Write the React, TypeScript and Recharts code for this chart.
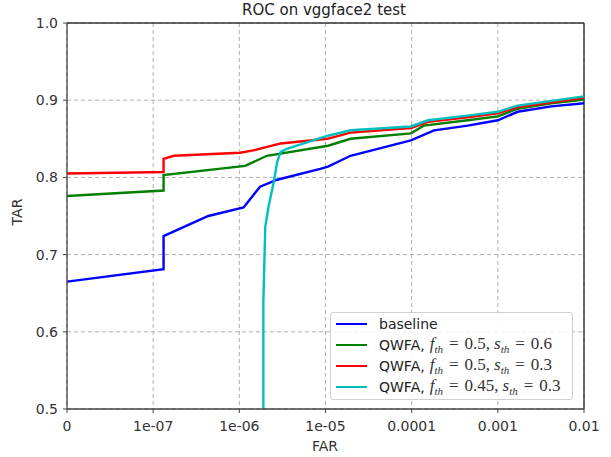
import { LineChart, Line, XAxis, YAxis, CartesianGrid, ReferenceLine } from 'recharts'

// x tick labels sit one decade apart, with 0 at the left edge
const xTickLabels = ['0', '1e-07', '1e-06', '1e-05', '0.0001', '0.001', '0.01']
const yTicks = [0.5, 0.6, 0.7, 0.8, 0.9, 1.0]

const baselineFar = [0, 1.32e-7, 1.32e-7, 4.37e-7, 1.12e-6, 1.45e-6, 1.74e-6, 2.75e-6, 8.7e-6, 1.07e-5, 1.95e-5, 9.8e-5, 1.82e-4, 4.47e-4, 1e-3, 1.7e-3, 4.17e-3, 1e-2]
const baselineTar = [0.665, 0.681, 0.724, 0.750, 0.761, 0.777, 0.788, 0.797, 0.811, 0.814, 0.828, 0.848, 0.861, 0.867, 0.874, 0.885, 0.892, 0.896]

const greenFar = [0, 1.32e-7, 1.32e-7, 1.17e-6, 2.09e-6, 1.07e-5, 1.95e-5, 9.8e-5, 1.38e-4, 4.47e-4, 1e-3, 1.7e-3, 4.17e-3, 1e-2]
const greenTar = [0.776, 0.783, 0.803, 0.815, 0.828, 0.841, 0.850, 0.857, 0.867, 0.874, 0.879, 0.889, 0.896, 0.901]

const redFar = [0, 1.32e-7, 1.32e-7, 1.74e-7, 1.02e-6, 1.45e-6, 3.02e-6, 1.05e-5, 1.95e-5, 9.8e-5, 1.55e-4, 4.47e-4, 1e-3, 1.7e-3, 1e-2]
const redTar = [0.805, 0.807, 0.824, 0.828, 0.832, 0.835, 0.844, 0.850, 0.858, 0.864, 0.872, 0.878, 0.883, 0.891, 0.903]

const cyanFar = [1.9e-6, 1.9e-6, 2.0e-6, 2.19e-6, 2.51e-6, 2.75e-6, 3.02e-6, 3.55e-6, 1.07e-5, 1.95e-5, 9.8e-5, 1.55e-4, 4.47e-4, 1e-3, 1.7e-3, 1e-2]
const cyanTar = [0.5, 0.638, 0.736, 0.763, 0.794, 0.820, 0.833, 0.837, 0.854, 0.861, 0.866, 0.874, 0.880, 0.885, 0.893, 0.905]

// symlog-ish position: linear below 1e-7, one unit per decade above
const toPos = (far: number) => (far <= 0 ? 0 : far < 1e-7 ? far / 1e-7 : Math.log10(far) + 8)
const build = (far: number[], tar: number[]) => far.map((f, i) => ({ x: toPos(f), y: tar[i] }))

const series = [
  { name: 'baseline', color: '#0000ff', data: build(baselineFar, baselineTar), f: '', s: '' },
  { name: 'QWFA', color: '#008000', data: build(greenFar, greenTar), f: '0.5', s: '0.6' },
  { name: 'QWFA', color: '#ff0000', data: build(redFar, redTar), f: '0.5', s: '0.3' },
  { name: 'QWFA', color: '#00bfbf', data: build(cyanFar, cyanTar), f: '0.45', s: '0.3' },
]

const font = '"DejaVu Sans", sans-serif'
const math = '"Liberation Serif", "DejaVu Serif", serif'

function MathLabel({ f, s }: { f: string; s: string }) {
  const sub = { fontSize: 11, fontStyle: 'italic' as const }
  const eq = { margin: '0 6px' }
  return (
    <span style={{ fontFamily: math, fontSize: 17, color: '#333' }}>
      <i>f</i><sub style={sub}>th</sub><span style={eq}>=</span>{f},<span style={{ marginLeft: 4 }} />
      <i>s</i><sub style={sub}>th</sub><span style={eq}>=</span>{s}
    </span>
  )
}

export default function App() {
  return (
    <div style={{ position: 'absolute', left: 0, top: 0, width: 611, height: 457, background: '#fff', fontFamily: font }}>
      <div style={{ position: 'absolute', left: 0, width: 648, top: 1, textAlign: 'center', fontSize: 15, color: '#222' }}>
        ROC on vggface2 test
      </div>
      <LineChart width={611} height={457} margin={{ top: 23, right: 27, bottom: 18, left: 17 }}>
        <CartesianGrid stroke="#b0b0b0" strokeDasharray="4 3" />
        <XAxis
          dataKey="x"
          type="number"
          domain={[0, 6]}
          ticks={[0, 1, 2, 3, 4, 5, 6]}
          tickFormatter={(v: number) => xTickLabels[v]}
          height={30}
          tickSize={4}
          tickMargin={8}
          allowDataOverflow
          stroke="#444"
          axisLine={{ stroke: '#444', strokeWidth: 1.3 }}
          tick={{ fill: '#333', fontSize: 14, fontFamily: font }}
        />
        <YAxis
          type="number"
          domain={[0.5, 1.0]}
          ticks={yTicks}
          tickFormatter={(v: number) => v.toFixed(1)}
          width={50}
          tickSize={4}
          tickMargin={5}
          allowDataOverflow
          stroke="#444"
          axisLine={{ stroke: '#444', strokeWidth: 1.3 }}
          tick={{ fill: '#333', fontSize: 14, fontFamily: font }}
        />
        <ReferenceLine y={1.0} stroke="#333" strokeWidth={1.3} />
        <ReferenceLine x={6} stroke="#222" strokeWidth={1.3} />
        {series.map((s, i) => (
          <Line
            key={i}
            data={s.data}
            dataKey="y"
            type="linear"
            stroke={s.color}
            strokeWidth={2.4}
            dot={false}
            isAnimationActive={false}
          />
        ))}
      </LineChart>
      <div style={{ position: 'absolute', left: 17, top: 212, transform: 'translate(-50%, -50%) rotate(-90deg)', fontSize: 14, color: '#333' }}>
        TAR
      </div>
      <div style={{ position: 'absolute', left: 325, top: 446, transform: 'translate(-50%, -50%)', fontSize: 14, color: '#333' }}>
        FAR
      </div>
      <div
        style={{
          position: 'absolute',
          left: 330,
          top: 312,
          width: 243,
          height: 88,
          border: '1px solid #d0d0d0',
          borderRadius: 3,
          background: 'rgba(255,255,255,0.85)',
          boxSizing: 'border-box',
        }}
      >
        {series.map((s, i) => (
          <div key={i} style={{ position: 'absolute', left: 5, top: 1 + i * 21, height: 20, display: 'flex', alignItems: 'center', whiteSpace: 'nowrap' }}>
            <div style={{ width: 31, height: 0, borderTop: `2.4px solid ${s.color}`, marginRight: 12 }} />
            <span style={{ fontSize: 14, color: '#222' }}>
              {s.name}
              {s.f ? ',' : ''}
            </span>
            {s.f ? <span style={{ marginLeft: 5 }}><MathLabel f={s.f} s={s.s} /></span> : null}
          </div>
        ))}
      </div>
    </div>
  )
}
